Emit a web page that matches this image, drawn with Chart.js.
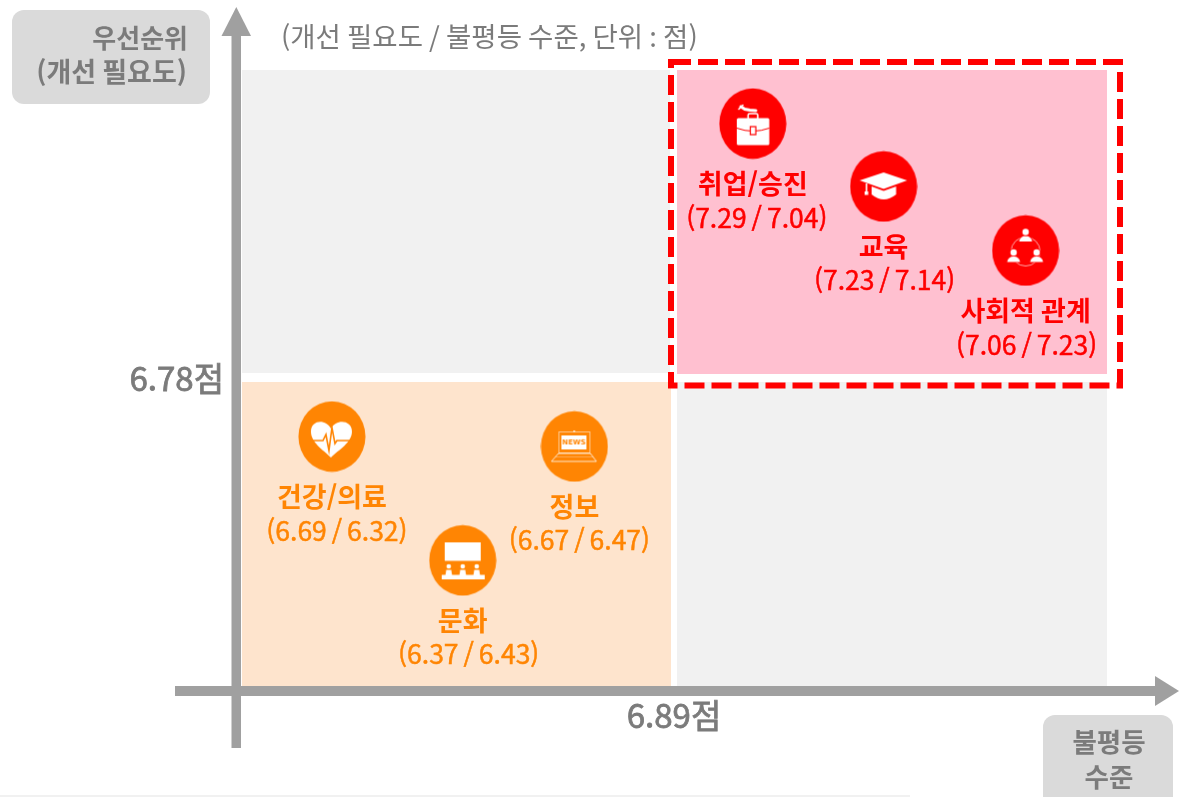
<!DOCTYPE html>
<html lang="ko">
<head>
<meta charset="utf-8">
<title>개선 필요도 / 불평등 수준</title>
<style>html,body{margin:0;padding:0;background:#fff;overflow:hidden}canvas{display:block}</style>
<script src="https://cdn.jsdelivr.net/npm/chart.js@4/dist/chart.umd.min.js"></script>
</head>
<body>
<canvas id="c" width="1179" height="797"></canvas>
<script>
// ---- data ----
const categories   = ['취업/승진', '교육', '사회적 관계', '건강/의료', '문화', '정보'];
const needScores   = [7.29, 7.23, 7.06, 6.69, 6.37, 6.67];   // 개선 필요도 (printed)
const gapScores    = [7.04, 7.14, 7.23, 6.32, 6.43, 6.47];   // 불평등 수준 (printed)
// The source is a schematic: marks sit at these axis readings, not at the printed scores.
const readX        = [6.981, 7.132, 7.296, 6.495, 6.646, 6.775];
const readY        = [7.193, 7.091, 6.987, 6.685, 6.484, 6.669];
const redIdx       = [0, 1, 2];
const orangeIdx    = [3, 4, 5];
const xCut = 6.89, yCut = 6.78;
const xTickLabels  = [xCut];
const yTickLabels  = [yCut];

// ---- styling ----
const RED = '#ff0000', ORANGE = '#ff8503', GREY = '#a0a0a0', TXT = '#7b7b7b';
const FONT = "'Noto Sans CJK KR','Noto Sans',sans-serif";
const valueDx = [4, 1, 1, 5, 6, 5];

function heart(g, c) {
  g.fillStyle = '#fff';
  g.beginPath();
  g.moveTo(-1, 21);
  g.bezierCurveTo(-9, 13, -21, 6, -21, -5);
  g.bezierCurveTo(-21, -17, -6, -18, -1, -8);
  g.bezierCurveTo(4, -18, 20, -17, 20, -5);
  g.bezierCurveTo(20, 6, 7, 13, -1, 21);
  g.fill();
  g.strokeStyle = c; g.lineWidth = 1.6; g.lineJoin = 'miter';
  g.beginPath();
  g.moveTo(-21, 4); g.lineTo(-9, 4); g.lineTo(-6, -2); g.lineTo(-3, 14);
  g.lineTo(0, -9); g.lineTo(3, 7); g.lineTo(5, 4); g.lineTo(20, 4);
  g.stroke();
}
function laptop(g, c) {
  g.strokeStyle = 'rgba(255,255,255,.55)'; g.lineWidth = 1;
  g.strokeRect(-15.5, -14.5, 31, 21);
  g.fillStyle = '#fff';
  g.fillRect(-13, -11, 25, 14);
  g.fillRect(-1, -16, 1.5, 1.5);
  g.fillStyle = c;
  g.font = "bold 7px 'DejaVu Sans'"; g.textAlign = 'center'; g.textBaseline = 'middle';
  g.fillText('NEWS', -0.5, -4);
  g.strokeStyle = 'rgba(255,255,255,.8)';
  g.beginPath();
  g.moveTo(-16, 7); g.lineTo(16, 7); g.lineTo(22, 15); g.lineTo(-23, 15); g.closePath();
  g.stroke();
  g.fillStyle = 'rgba(255,255,255,.6)';
  for (let i = -9; i <= 9; i++) g.fillRect(i * 2 - 0.5, 10, 1, 1);
}
function cinemaDraw(g) {
  g.fillStyle = '#fff';
  g.fillRect(-18, -18, 36, 18.5);
  [-14, 0, 14].forEach(x => {
    g.beginPath(); g.arc(x, 6, 2.3, 0, 7); g.fill();
    g.beginPath();
    g.moveTo(x - 3.5, 16); g.lineTo(x - 2.5, 9.5); g.lineTo(x + 2.5, 9.5); g.lineTo(x + 3.5, 16); g.closePath(); g.fill();
  });
  g.fillRect(-21, 14.5, 43, 4.5);
}
function briefcase(g, c) {
  g.fillStyle = '#fff';
  g.beginPath(); g.roundRect(-16, -5.5, 32.5, 27, 1.5); g.fill();
  g.strokeStyle = '#fff'; g.lineWidth = 1.6;
  g.beginPath(); g.roundRect(-4.7, -10, 9.6, 6, 1.5); g.stroke();
  g.strokeStyle = c; g.lineWidth = 1;
  g.beginPath(); g.moveTo(-16, 4.5); g.quadraticCurveTo(0, 10.5, 16.5, 4.5); g.stroke();
  g.fillStyle = '#fff'; g.lineWidth = 1.2;
  g.fillRect(-2.5, 3, 5.5, 8); g.strokeRect(-2.5, 3, 5.5, 8);
  g.strokeStyle = '#fff'; g.lineWidth = 3; g.lineCap = 'round';
  g.beginPath(); g.moveTo(-12, -17); g.lineTo(-8, -14.5); g.lineTo(-3, -13.5); g.lineTo(3, -13); g.stroke();
  g.lineWidth = 1.6;
  g.beginPath(); g.moveTo(-14, -14.5); g.lineTo(-10, -18.5); g.stroke();
}
function cap(g, c) {
  g.fillStyle = '#fff';
  g.beginPath(); g.moveTo(-12, 0); g.lineTo(0, 4.5); g.lineTo(12.5, 0); g.lineTo(12.5, 8);
  g.quadraticCurveTo(0, 18, -12, 8); g.closePath(); g.fill();
  g.beginPath(); g.moveTo(-24, -6); g.lineTo(0, -14); g.lineTo(23.5, -6); g.lineTo(0, 2.5); g.closePath(); g.fill();
  g.fillRect(-18, -3, 1.6, 11);
  g.fillRect(-19, 5, 3.6, 3.5);
}
function network(g) {
  g.strokeStyle = 'rgba(255,255,255,.65)'; g.lineWidth = 1;
  g.beginPath(); g.arc(0, 1, 14.5, 0, 7); g.stroke();
  g.fillStyle = '#fff'; g.strokeStyle = RED; g.lineWidth = 1.5;
  [[0, -18.5], [-12, 2], [11, 2]].forEach(([x, y]) => {
    g.beginPath(); g.moveTo(x - 6.5, y + 9.5); g.quadraticCurveTo(x - 5.5, y + 4, x, y + 4);
    g.quadraticCurveTo(x + 5.5, y + 4, x + 6.5, y + 9.5); g.closePath(); g.stroke(); g.fill();
    g.beginPath(); g.arc(x, y, 3.2, 0, 7); g.stroke(); g.fill();
  });
}
const glyphs = [briefcase, cap, network, heart, cinemaDraw, laptop];

function marker(i, colour) {
  const cv = document.createElement('canvas');
  cv.width = 68; cv.height = 72;
  const g = cv.getContext('2d');
  g.translate(34, 36);
  g.fillStyle = colour;
  g.beginPath(); g.ellipse(0, 0, 33.5, 35.2, 0, 0, Math.PI * 2); g.fill();
  glyphs[i](g, colour);
  return cv;
}

const dataset = (idx, colour) => ({
  label: colour === RED ? '상위 그룹' : '하위 그룹',
  data: idx.map(i => ({ x: readX[i], y: readY[i], i })),
  pointStyle: idx.map(i => marker(i, colour)),
  pointRadius: 34,
  backgroundColor: colour,
  borderColor: colour,
  showLine: false
});

const backdrop = {
  id: 'backdrop',
  beforeDatasetsDraw(chart) {
    const { ctx } = chart, X = chart.scales.x, Y = chart.scales.y;
    const l = X.left + 1, r = X.right, t = Y.top, b = Y.bottom;
    const cx = X.getPixelForValue(xCut), cy = Y.getPixelForValue(yCut);
    ctx.save();
    ctx.fillStyle = '#f1f1f1';
    ctx.fillRect(l, t, cx - 4 - l, cy - 5 - t);
    ctx.fillRect(cx + 3, cy + 4, r - cx - 3, b - cy - 4);
    ctx.fillStyle = '#fee4cd';
    ctx.fillRect(l, cy + 4, cx - 3 - l, b - cy - 4);
    ctx.fillStyle = '#ffc0d0';
    ctx.fillRect(cx + 3, t, r - cx - 3, cy - 4 - t);
    // axes with arrow heads
    ctx.fillStyle = GREY;
    ctx.fillRect(X.left - 9.5, 30, 9.5, 718);
    ctx.beginPath(); ctx.moveTo(X.left - 4.7, 7); ctx.lineTo(X.left - 19.5, 36); ctx.lineTo(X.left + 10, 36); ctx.closePath(); ctx.fill();
    ctx.fillRect(175, b, 985, 10);
    ctx.beginPath(); ctx.moveTo(1179, b + 5); ctx.lineTo(1155, b - 10); ctx.lineTo(1155, b + 20); ctx.closePath(); ctx.fill();
    // highlighted quadrant frame
    ctx.strokeStyle = RED; ctx.lineWidth = 6; ctx.setLineDash([20, 7]); ctx.lineJoin = 'miter';
    ctx.strokeRect(cx - 3, t - 8, r + 13 - cx + 3, cy + 7.5 - t + 8);
    ctx.setLineDash([]);
    ctx.restore();
  },
  afterDatasetsDraw(chart) {
    const { ctx } = chart;
    ctx.save();
    ctx.textBaseline = 'middle'; ctx.textAlign = 'center';
    categories.forEach((name, i) => {
      const px = chart.scales.x.getPixelForValue(readX[i]);
      const py = chart.scales.y.getPixelForValue(readY[i]);
      const col = redIdx.includes(i) ? RED : ORANGE;
      ctx.fillStyle = col; ctx.strokeStyle = col;
      ctx.font = 'bold 27px ' + FONT;
      ctx.fillText(name, px, py + 60);
      ctx.font = '26.5px ' + FONT;
      ctx.wordSpacing = '-2.5px';
      const v = '(' + needScores[i].toFixed(2) + ' / ' + gapScores[i].toFixed(2) + ')';
      ctx.lineWidth = 0.5;
      ctx.fillText(v, px + valueDx[i], py + 94);
      ctx.strokeText(v, px + valueDx[i], py + 94);
      ctx.wordSpacing = '0px';
    });
    // axis name plates and caption
    ctx.fillStyle = '#dadada';
    ctx.beginPath(); ctx.roundRect(12, 10, 198, 94, 12); ctx.fill();
    ctx.beginPath(); ctx.roundRect(1043, 715, 130, 100, 12); ctx.fill();
    ctx.fillStyle = '#f1f1f1'; ctx.fillRect(0, 795, 910, 2);
    ctx.fillStyle = TXT;
    ctx.textAlign = 'right';
    ctx.font = 'bold 26px ' + FONT;
    ctx.fillText('우선순위', 188, 38);
    ctx.font = 'bold 27px ' + FONT;
    ctx.fillText('(개선 필요도)', 187, 72);
    ctx.textAlign = 'center';
    ctx.font = 'bold 26.5px ' + FONT;
    ctx.fillText('불평등', 1109, 742);
    ctx.fillText('수준', 1109, 777);
    ctx.textAlign = 'left';
    ctx.font = '27.5px ' + FONT;
    ctx.fillText('(개선 필요도 / 불평등 수준, 단위 : 점)', 281, 37);
    ctx.restore();
  }
};

const tickFont = { family: FONT, size: 33, weight: 'normal' };
const tickStyle = { color: TXT, font: tickFont, textStrokeColor: TXT, textStrokeWidth: 0.8 };
new Chart(document.getElementById('c'), {
  type: 'scatter',
  data: { datasets: [dataset(redIdx, RED), dataset(orangeIdx, ORANGE)] },
  plugins: [backdrop],
  options: {
    responsive: false,
    animation: false,
    layout: { padding: { top: 70, right: 72, left: 0, bottom: 0 } },
    plugins: { legend: { display: false }, tooltip: { enabled: false } },
    scales: {
      x: {
        type: 'linear', min: xCut - 0.5, max: xCut + 0.5,
        grid: { display: false }, border: { display: false },
        afterBuildTicks: s => { s.ticks = xTickLabels.map(v => ({ value: v })); },
        afterFit: s => { s.height = 111; },
        ticks: {
          autoSkip: false, maxRotation: 0, padding: 2, ...tickStyle,
          callback: v => Number(v).toFixed(2) + '점'
        }
      },
      y: {
        type: 'linear', min: yCut - 0.5, max: yCut + 0.5,
        grid: { display: false }, border: { display: false },
        afterBuildTicks: s => { s.ticks = yTickLabels.map(v => ({ value: v })); },
        afterFit: s => { s.width = 241; },
        ticks: {
          autoSkip: false, padding: 9, ...tickStyle,
          callback: v => Number(v).toFixed(2) + '점'
        }
      }
    }
  }
});
</script>
</body>
</html>
